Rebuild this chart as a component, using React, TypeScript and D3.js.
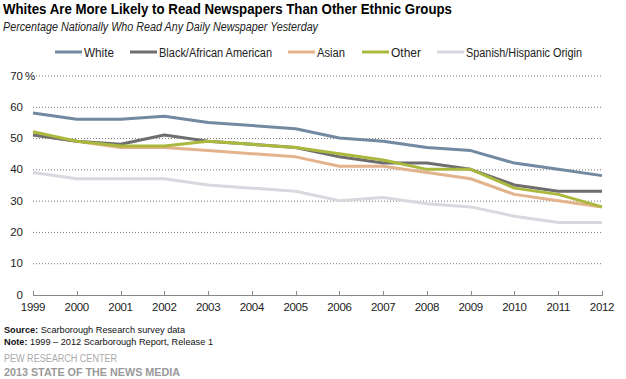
import React from "react";
import * as d3 from "d3";

const years = [1999, 2000, 2001, 2002, 2003, 2004, 2005, 2006, 2007, 2008, 2009, 2010, 2011, 2012];
const white = [58, 56, 56, 57, 55, 54, 53, 50, 49, 47, 46, 42, 40, 38];
const black = [51, 49, 48, 51, 49, 48, 47, 44, 42, 42, 40, 35, 33, 33];
const asian = [51, 49, 47, 47, 46, 45, 44, 41, 41, 39, 37, 32, 30, 28];
const other = [52, 49, 47.5, 47.5, 49, 48, 47, 45, 43, 40, 40, 34, 32, 28];
const hispanic = [39, 37, 37, 37, 35, 34, 33, 30, 31, 29, 28, 25, 23, 23];
const yTicks = [0, 10, 20, 30, 40, 50, 60, 70];

const series = [
  { name: "White", values: white, color: "#7389a2", lx: 55, tw: 30 },
  { name: "Black/African American", values: black, color: "#6e6e6e", lx: 130, tw: 113 },
  { name: "Asian", values: asian, color: "#e2b38c", lx: 288, tw: 28 },
  { name: "Other", values: other, color: "#aab93e", lx: 362, tw: 30 },
  { name: "Spanish/Hispanic Origin", values: hispanic, color: "#d6d9de", lx: 437, tw: 116 },
];
const drawOrder = [4, 2, 1, 3, 0];

export default function App() {
  const W = 626, H = 379;
  const x = d3.scaleLinear().domain([1999, 2012]).range([33, 602]);
  const y = d3.scaleLinear().domain([0, 70]).range([294.5, 75.5]);
  const line = d3.line<number>().x((_, i) => x(years[i])).y((v) => y(v));
  const font = "Arial, 'Liberation Sans', sans-serif";
  return (
    <svg width={W} height={H} style={{ position: "absolute", left: 0, top: 0, fontFamily: font }}>
      <rect width={W} height={H} fill="#fff" />
      <text x={3} y={14} fontSize={15} fontWeight="bold" fill="#000" textLength={449} lengthAdjust="spacingAndGlyphs">
        Whites Are More Likely to Read Newspapers Than Other Ethnic Groups
      </text>
      <text x={3} y={30.5} fontSize={12} fontStyle="italic" fill="#222" textLength={315} lengthAdjust="spacingAndGlyphs">
        Percentage Nationally Who Read Any Daily Newspaper Yesterday
      </text>
      {series.map((s) => (
        <g key={s.name}>
          <line x1={s.lx} x2={s.lx + 27} y1={52} y2={52} stroke={s.color} strokeWidth={3} />
          <text x={s.lx + 29} y={56.5} fontSize={12} fill="#222" textLength={s.tw} lengthAdjust="spacingAndGlyphs">{s.name}</text>
        </g>
      ))}
      {yTicks.map((t) => (
        <g key={t}>
          {t > 0 && (
            <line x1={x(1999)} x2={x(2012)} y1={y(t) + 0.5} y2={y(t) + 0.5} stroke="#777" strokeWidth={1} strokeDasharray="1,2" />
          )}
          <text x={23} y={y(t) + 4} fontSize={11.5} textAnchor="end" fill="#222">{t}</text>
          {t === 70 && <text x={25} y={y(t) + 4} fontSize={11.5} fill="#222">%</text>}
        </g>
      ))}
      <line x1={x(1999)} x2={x(2012)} y1={295.5} y2={295.5} stroke="#888" strokeWidth={1} />
      {years.map((yr) => (
        <g key={yr}>
          <line x1={Math.round(x(yr)) + 0.5} x2={Math.round(x(yr)) + 0.5} y1={291} y2={296} stroke="#888" />
          <text x={x(yr)} y={311} fontSize={11.5} textAnchor="middle" fill="#222" letterSpacing={-0.3}>{yr}</text>
        </g>
      ))}
      {drawOrder.map((i) => (
        <path key={series[i].name} d={line(series[i].values) || ""} fill="none" stroke={series[i].color} strokeWidth={3} strokeLinejoin="round" />
      ))}
      <text x={4} y={333} fontSize={9.5} fill="#111" textLength={181} lengthAdjust="spacingAndGlyphs">
        <tspan fontWeight="bold">Source:</tspan> Scarborough Research survey data
      </text>
      <text x={4} y={345} fontSize={9.5} fill="#111" textLength={209} lengthAdjust="spacingAndGlyphs">
        <tspan fontWeight="bold">Note:</tspan> 1999 – 2012 Scarborough Report, Release 1
      </text>
      <text x={4} y={362} fontSize={10} fill="#aaa" textLength={113} lengthAdjust="spacingAndGlyphs">PEW RESEARCH CENTER</text>
      <text x={4} y={376} fontSize={11} fontWeight="bold" fill="#999" textLength={176} lengthAdjust="spacingAndGlyphs">2013 STATE OF THE NEWS MEDIA</text>
    </svg>
  );
}
